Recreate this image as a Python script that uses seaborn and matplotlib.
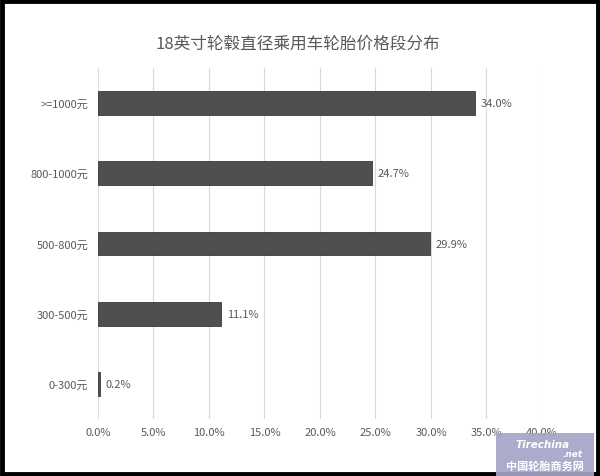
import matplotlib

matplotlib.use("Agg")
import matplotlib.pyplot as plt
import pandas as pd
import seaborn as sns
from matplotlib.patches import Rectangle
from matplotlib.ticker import FuncFormatter, MultipleLocator

title = "18英寸轮毂直径乘用车轮胎价格段分布"
price_bands = [">=1000元", "800-1000元", "500-800元", "300-500元", "0-300元"]
shares = [34.0, 24.7, 29.9, 11.1, 0.2]
x_max = 40.0
x_step = 5.0

text_color = "#595959"
bar_color = "#4f4f4f"
grid_color = "#d9d9d9"

sns.set_theme(style="white")
plt.rcParams["font.family"] = ["Noto Sans CJK SC", "DejaVu Sans"]

df = pd.DataFrame({"band": price_bands, "share": shares})

fig = plt.figure(figsize=(6.0, 4.77), dpi=100)
ax = fig.add_axes([0.1633, 0.1195, 0.74, 0.7358])

sns.barplot(
    data=df,
    x="share",
    y="band",
    orient="h",
    color=bar_color,
    saturation=1,
    width=0.34,
    ax=ax,
)
for patch in ax.patches:
    patch.set_edgecolor("#3a3a3a")
    patch.set_linewidth(0.6)

ax.bar_label(
    ax.containers[0],
    labels=[f"{v:.1f}%" for v in shares],
    padding=4,
    fontsize=8,
    color=text_color,
)

ax.set_xlim(0, x_max)
ax.xaxis.set_major_locator(MultipleLocator(x_step))
ax.xaxis.set_major_formatter(FuncFormatter(lambda v, _: f"{v:.1f}%"))
ax.grid(axis="x", color=grid_color, linewidth=0.8)
ax.set_axisbelow(True)
for side in ax.spines.values():
    side.set_visible(False)
ax.tick_params(axis="both", length=0, labelsize=8, colors=text_color)
ax.tick_params(axis="x", pad=6)
ax.tick_params(axis="y", pad=7)
ax.set_xlabel("")
ax.set_ylabel("")

fig.text(0.497, 0.907, title, ha="center", va="center", fontsize=12, color=text_color)

# outer frame
fig.patches.append(
    Rectangle((0.004, 0.004), 0.992, 0.992, transform=fig.transFigure,
              fill=False, edgecolor="black", linewidth=3.5)
)

# watermark box at lower right
fig.patches.append(
    Rectangle((496 / 600, 0.0), 98 / 600, 43 / 477, transform=fig.transFigure,
              facecolor="#a4a5c8", edgecolor="none", alpha=0.92, zorder=5)
)
fig.text(0.905, 0.068, "Tirechina", ha="center", va="center", fontsize=7.5,
         color="white", fontstyle="italic", fontweight="bold", zorder=6,
         family=["DejaVu Sans"])
fig.text(0.955, 0.047, ".net", ha="center", va="center", fontsize=6.5,
         color="white", fontstyle="italic", fontweight="bold", zorder=6,
         family=["DejaVu Sans"])
fig.text(0.908, 0.022, "中国轮胎商务网", ha="center", va="center", fontsize=8,
         color="white", fontweight="bold", zorder=6)

fig.savefig("out.png", dpi=100)
plt.close(fig)
